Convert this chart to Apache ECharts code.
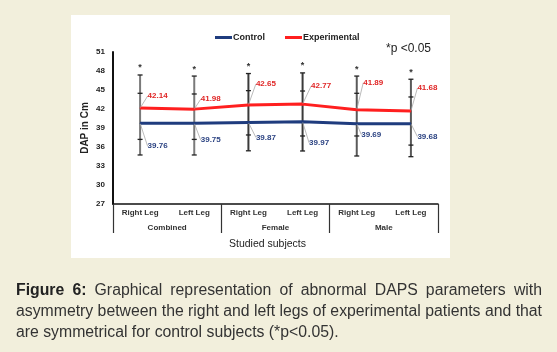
<!DOCTYPE html>
<html>
<head>
<meta charset="utf-8">
<script src="https://cdn.jsdelivr.net/npm/echarts@6/dist/echarts.min.js"></script>
<style>
html,body{margin:0;padding:0;background:#f2efdc;}
#wrap{position:relative;width:557px;height:352px;overflow:hidden;background:#f2efdc;}
#chart{position:absolute;left:0;top:0;width:557px;height:352px;}
#caption{position:absolute;left:16px;top:279px;width:526px;font-family:"Liberation Sans",Arial,sans-serif;font-size:15.8px;line-height:21px;color:#333;text-align:justify;}
#caption b{color:#222;}
</style>
</head>
<body>
<div id="wrap">
<div id="chart"></div>
<div id="caption"><b>Figure 6:</b> Graphical representation of abnormal DAPS parameters with asymmetry between the right and left legs of experimental patients and that are symmetrical for control subjects (*p&lt;0.05).</div>
</div>
<script>
// ---- data ----
const legs = ['Right Leg', 'Left Leg', 'Right Leg', 'Left Leg', 'Right Leg', 'Left Leg'];
const groups = ['Combined', 'Female', 'Male'];
const yTicks = [27, 30, 33, 36, 39, 42, 45, 48, 51];
const control = [39.76, 39.75, 39.87, 39.97, 39.69, 39.68];
const experimental = [42.14, 41.98, 42.65, 42.77, 41.89, 41.68];
const expHigh = [47.37, 47.2, 47.6, 47.7, 47.2, 46.7];
const expLow = [37.2, 37.2, 37.9, 37.74, 37.74, 36.3];
const ctrlHigh = [44.48, 44.37, 44.9, 44.84, 44.48, 43.9];
const ctrlLow = [34.74, 34.74, 35.4, 35.37, 34.58, 34.47];
const sigMark = ['*', '*', '*', '*', '*', '*'];

// ---- label offsets (style) ----
const expLabelOffset = [[7, -12], [6, -10], [7, -21], [8, -18], [6, -27], [6, -23]];
const ctrlLabelOffset = [[7, 23], [6, 17], [7, 15], [6, 21], [4, 11], [6, 13]];
const barColors = ['#7a7a7a', '#7a7a7a', '#3a3a3a', '#3a3a3a', '#5a5a5a', '#5a5a5a'];

const FONT = '"Liberation Sans", Arial, sans-serif';
const chart = echarts.init(document.getElementById('chart'), null, {renderer: 'canvas'});

const errData = legs.map((_, i) => [i, expLow[i], expHigh[i], ctrlLow[i], ctrlHigh[i]]);

const option = {
  backgroundColor: 'transparent',
  animation: false,
  graphic: [
    {type: 'rect', left: 71, top: 15, shape: {width: 379, height: 243}, style: {fill: '#ffffff'}, z: -10, silent: true},
    {type: 'text', left: 386, top: 43, style: {text: '*p <0.05', font: '12px ' + FONT, fill: '#222'}}
  ],
  legend: {
    left: 210, top: 28, itemWidth: 17, itemHeight: 3, itemGap: 20, icon: 'rect',
    textStyle: {fontFamily: FONT, fontSize: 9, fontWeight: 'bold', color: '#222', padding: [0, 0, 0, -4]},
    data: ['Control', 'Experimental']
  },
  grid: {left: 113, right: 119, top: 52, bottom: 148, containLabel: false},
  xAxis: [
    {
      type: 'category', data: legs, position: 'bottom',
      axisLine: {lineStyle: {color: '#111', width: 1.5}},
      axisTick: {show: false},
      axisLabel: {fontFamily: FONT, fontSize: 8, fontWeight: 'bold', color: '#333', margin: 5}
    },
    {
      type: 'category', data: groups, position: 'bottom',
      axisLine: {show: false},
      axisTick: {show: true, length: 29, lineStyle: {color: '#333', width: 1.2}},
      axisLabel: {fontFamily: FONT, fontSize: 8, fontWeight: 'bold', color: '#333', margin: 20},
      name: 'Studied subjects', nameLocation: 'middle', nameGap: 35,
      nameTextStyle: {fontFamily: FONT, fontSize: 10.5, color: '#222', padding: [0, 16, 0, 0]}
    }
  ],
  yAxis: {
    type: 'value', min: 27, max: 51, interval: 3,
    axisLine: {show: true, lineStyle: {color: '#111', width: 2}},
    axisTick: {show: false},
    splitLine: {show: false},
    axisLabel: {fontFamily: FONT, fontSize: 8, fontWeight: 'bold', color: '#222', margin: 8,
      formatter: v => yTicks.indexOf(v) >= 0 ? String(v) : ''},
    name: 'DAP in Cm', nameLocation: 'middle', nameGap: 23, nameMoveOverlap: false,
    nameTextStyle: {fontFamily: FONT, fontSize: 10, fontWeight: 'bold', color: '#222'}
  },
  series: [
    {
      type: 'custom', name: 'err', z: 1, silent: true,
      data: errData,
      renderItem: function (params, api) {
        const i = api.value(0);
        const vals = [api.value(1), api.value(2), api.value(3), api.value(4)];
        const x = api.coord([i, 0])[0];
        const ys = vals.map(v => api.coord([i, v])[1]);
        const top = Math.min.apply(null, ys);
        const bot = Math.max.apply(null, ys);
        const col = barColors[i];
        const children = [
          {type: 'line', shape: {x1: x, y1: top, x2: x, y2: bot}, style: {stroke: col, lineWidth: 2}}
        ];
        ys.forEach(y => children.push({type: 'line', shape: {x1: x - 2.5, y1: y, x2: x + 2.5, y2: y}, style: {stroke: '#222', lineWidth: 1.3}}));
        children.push({type: 'text', x: x, y: top - 7, style: {text: sigMark[i], textAlign: 'center', textVerticalAlign: 'middle', font: 'bold 9px ' + FONT, fill: '#333'}});
        return {type: 'group', children: children};
      }
    },
    {
      type: 'line', name: 'Control', data: control, z: 3,
      symbol: 'circle', symbolSize: 1, showSymbol: true,
      lineStyle: {color: '#1f3c7e', width: 3},
      itemStyle: {color: '#1f3c7e'},
      label: {show: true, position: 'right', distance: 0, fontFamily: FONT, fontSize: 8, fontWeight: 'bold', color: '#2d4483', formatter: p => p.value.toFixed(2)},
      labelLine: {show: true, lineStyle: {color: '#aaa', width: 0.8}},
      labelLayout: p => ({dx: ctrlLabelOffset[p.dataIndex][0], dy: ctrlLabelOffset[p.dataIndex][1]})
    },
    {
      type: 'line', name: 'Experimental', data: experimental, z: 3,
      symbol: 'circle', symbolSize: 1, showSymbol: true,
      lineStyle: {color: '#ff1f1f', width: 3},
      itemStyle: {color: '#ff1f1f'},
      label: {show: true, position: 'right', distance: 0, fontFamily: FONT, fontSize: 8, fontWeight: 'bold', color: '#e02626', formatter: p => p.value.toFixed(2)},
      labelLine: {show: true, lineStyle: {color: '#aaa', width: 0.8}},
      labelLayout: p => ({dx: expLabelOffset[p.dataIndex][0], dy: expLabelOffset[p.dataIndex][1]})
    }
  ]
};
chart.setOption(option);
</script>
</body>
</html>
